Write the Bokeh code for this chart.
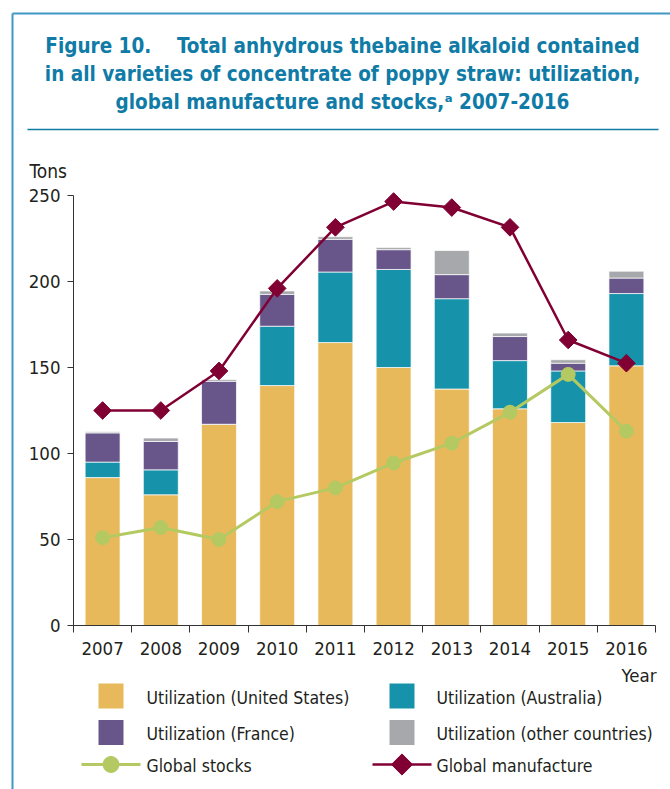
import math
from bokeh.plotting import figure
from bokeh.models import Range1d, FixedTicker, ColumnDataSource, LinearAxis
from bokeh.embed import file_html
from bokeh.resources import INLINE
from bokeh.core.properties import value

# ---------------- data ----------------
years = [2007, 2008, 2009, 2010, 2011, 2012, 2013, 2014, 2015, 2016]
util_us = [86, 76, 117, 139.5, 164.5, 150, 137.5, 126, 118, 151]
util_au = [9, 14.5, 0, 34.5, 41, 57, 52.5, 28, 30, 42]
util_fr = [17, 16.5, 25, 18.5, 19, 11.5, 14, 14, 4.5, 9]
util_other = [0.6, 2, 1, 2, 1.5, 1.2, 14, 2, 2, 4]
global_stocks = [51, 57, 50, 72, 80, 94.5, 106, 124, 146, 113]
global_manufacture = [125, 125, 148, 196, 231.5, 246.5, 243, 231.5, 166, 152.5]
y_ticks = [0, 50, 100, 150, 200, 250]

title_lines = [
    "Figure 10.\u00a0\u00a0\u00a0 Total anhydrous thebaine alkaloid contained",
    "in all varieties of concentrate of poppy straw: utilization,",
    "global manufacture and stocks,\u1d43 2007-2016",
]
y_label = "Tons"
x_label = "Year"
series_labels = ["Utilization (United States)", "Utilization (Australia)",
                 "Utilization (France)", "Utilization (other countries)",
                 "Global stocks", "Global manufacture"]

# ---------------- style ----------------
C_US = "#E8B95B"
C_AU = "#1693AA"
C_FR = "#68568A"
C_OT = "#A7A8AB"
C_ST = "#B5C962"
C_MF = "#810034"
C_TITLE = "#0F7BA6"
C_BORDER = "#3F98C6"
C_TEXT = "#231F20"
C_AXIS = "#333333"
FONT_NAME = "DejaVu Sans Condensed, Liberation Sans Narrow, Roboto, sans-serif"
FONT = value(FONT_NAME)

W, H = 670, 789
PLOT_LEFT, PLOT_RIGHT, PLOT_TOP, PLOT_BOTTOM = 73, 655, 195, 625
X0, X1 = years[0] - 0.5, years[-1] + 0.5
Y0, Y1 = 0, 250
sx = (PLOT_RIGHT - PLOT_LEFT) / (X1 - X0)
sy = (PLOT_BOTTOM - PLOT_TOP) / (Y1 - Y0)

p = figure(width=W, height=H, output_backend="svg", toolbar_location=None,
           x_range=Range1d(X0 - PLOT_LEFT / sx, X1 + (W - PLOT_RIGHT) / sx),
           y_range=Range1d(Y0 - (H - PLOT_BOTTOM) / sy, Y1 + PLOT_TOP / sy),
           x_axis_type=None, y_axis_type=None, min_border=0)
p.extra_x_ranges = {"px": Range1d(0, W)}
p.extra_y_ranges = {"px": Range1d(H, 0)}
p.outline_line_color = None
p.grid.visible = False
p.background_fill_color = "white"
p.border_fill_color = "white"

PX = dict(x_range_name="px", y_range_name="px")

# ---------------- frame / title ----------------
p.line([12, W], [13, 13], line_color=C_BORDER, line_width=2, **PX)
p.line([12, 12], [13, H], line_color=C_BORDER, line_width=2, **PX)
p.line([27, 658], [129, 129], line_color=C_TITLE, line_width=1.5, **PX)
p.text(x=[342, 342, 342], y=[45.5, 73.5, 101.5], text=title_lines, text_font=FONT,
       text_font_style="bold", text_font_size="20.5px", text_color=C_TITLE,
       text_align="center", text_baseline="middle", **PX)
p.text(x=[29], y=[170], text=[y_label], text_font=FONT, text_font_size="19px",
       text_color=C_TEXT, text_align="left", text_baseline="middle", **PX)
p.text(x=[656], y=[674.5], text=[x_label], text_font=FONT, text_font_size="18.5px",
       text_color=C_TEXT, text_align="right", text_baseline="middle", **PX)

# ---------------- data marks ----------------
src = ColumnDataSource(dict(year=years, us=util_us, au=util_au, fr=util_fr, other=util_other))
p.vbar_stack(["us", "au", "fr", "other"], x="year", width=0.6, source=src,
             fill_color=[C_US, C_AU, C_FR, C_OT], line_color="white", line_width=1, line_alpha=0.7)
p.line(years, global_stocks, line_color=C_ST, line_width=3)
p.scatter(years, global_stocks, marker="circle", size=14, fill_color=C_ST, line_color=C_ST)
p.line(years, global_manufacture, line_color=C_MF, line_width=2.5)
p.scatter(years, global_manufacture, marker="square", angle=math.pi / 4, size=12.5,
          fill_color=C_MF, line_color=C_MF)

# ---------------- axes ----------------
xa = LinearAxis(fixed_location=Y0, bounds=(X0, X1),
                ticker=FixedTicker(ticks=years, minor_ticks=[y - 0.5 for y in years] + [X1]))
xa.major_tick_line_color = None
xa.major_tick_out = 0
xa.major_tick_in = 0
xa.minor_tick_out = 7
xa.minor_tick_in = 0
xa.minor_tick_line_color = C_AXIS
xa.axis_line_color = C_AXIS
xa.major_label_standoff = 9
xa.major_label_text_font = FONT_NAME
xa.major_label_text_font_size = "18.5px"
xa.major_label_text_color = C_TEXT
p.add_layout(xa, "below")

ya = LinearAxis(fixed_location=X0, bounds=(Y0, Y1), ticker=FixedTicker(ticks=y_ticks))
ya.major_tick_out = 6
ya.major_tick_in = 0
ya.major_tick_line_color = C_AXIS
ya.axis_line_color = C_AXIS
ya.major_label_standoff = 7
ya.major_label_text_font = FONT_NAME
ya.major_label_text_font_size = "18.5px"
ya.major_label_text_color = C_TEXT
p.add_layout(ya, "left")

# ---------------- legend ----------------
sw_x = [110.5, 401.5, 110.5, 401.5]
sw_y = [695.5, 695.5, 732, 732]
p.scatter(sw_x, sw_y, marker="square", size=25, fill_color=[C_US, C_AU, C_FR, C_OT],
          line_color=None, **PX)
tx = [146, 436, 146, 436, 146, 436]
ty = [697, 697, 733, 733, 765, 765]
p.text(x=tx, y=ty, text=series_labels, text_font=FONT, text_font_size="17.5px",
       text_color=C_TEXT, text_align="left", text_baseline="middle", **PX)
p.line([81, 140], [764, 764], line_color=C_ST, line_width=3, **PX)
p.scatter([110.5], [764], marker="circle", size=16, fill_color=C_ST, line_color=C_ST, **PX)
p.line([372, 431], [764, 764], line_color=C_MF, line_width=2.5, **PX)
p.scatter([401.5], [764], marker="square", angle=math.pi / 4, size=15,
          fill_color=C_MF, line_color=C_MF, **PX)

open("out.html", "w").write(file_html(p, INLINE))
